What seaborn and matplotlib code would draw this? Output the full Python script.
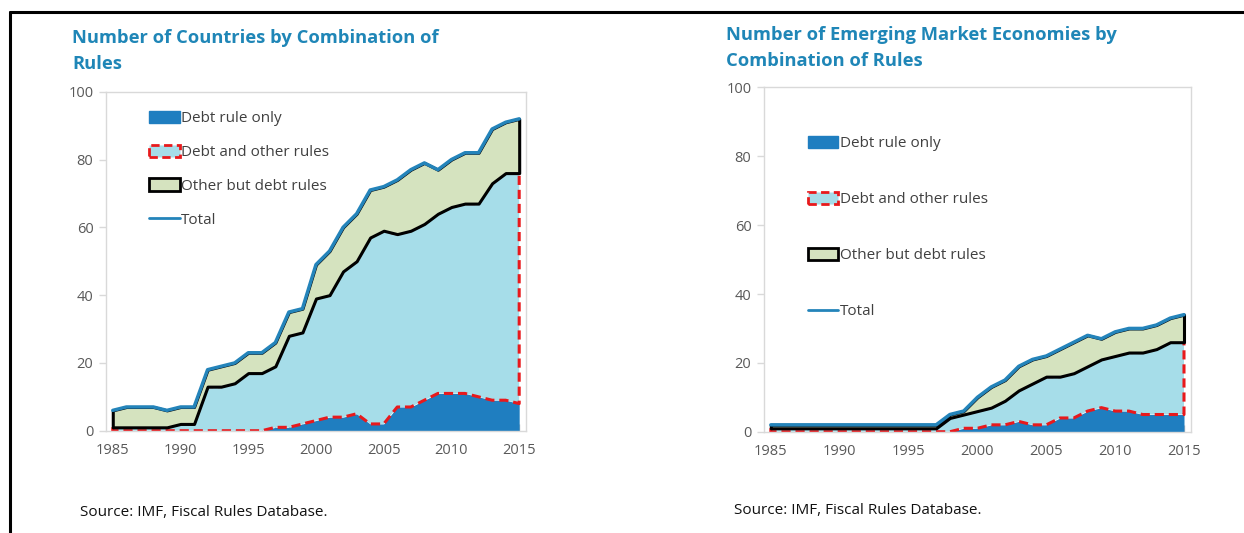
import numpy as np
import pandas as pd
import matplotlib
matplotlib.use("Agg")
import matplotlib.pyplot as plt
import seaborn as sns
from matplotlib.patches import Patch
from matplotlib.lines import Line2D

# ---- data ----
years = list(range(1985, 2016))

# All countries
all_total = [6, 7, 7, 7, 6, 7, 7, 18, 19, 20, 23, 23, 26, 35, 36, 49,
             53, 60, 64, 71, 72, 74, 77, 79, 77, 80, 82, 82, 89, 91, 92]
all_debt_any = [1, 1, 1, 1, 1, 2, 2, 13, 13, 14, 17, 17, 19, 28, 29, 39,
                40, 47, 50, 57, 59, 58, 59, 61, 64, 66, 67, 67, 73, 76, 76]
all_debt_only = [0, 0, 0, 0, 0, 0, 0, 0, 0, 0, 0, 0, 1, 1, 2, 3,
                 4, 4, 5, 2, 2, 7, 7, 9, 11, 11, 11, 10, 9, 9, 8]

# Emerging market economies
em_total = [2, 2, 2, 2, 2, 2, 2, 2, 2, 2, 2, 2, 2, 5, 6, 10,
            13, 15, 19, 21, 22, 24, 26, 28, 27, 29, 30, 30, 31, 33, 34]
em_debt_any = [1, 1, 1, 1, 1, 1, 1, 1, 1, 1, 1, 1, 1, 4, 5, 6,
               7, 9, 12, 14, 16, 16, 17, 19, 21, 22, 23, 23, 24, 26, 26]
em_debt_only = [0, 0, 0, 0, 0, 0, 0, 0, 0, 0, 0, 0, 0, 0, 1, 1,
                2, 2, 3, 2, 2, 4, 4, 6, 7, 6, 6, 5, 5, 5, 5]

labels = ["Debt rule only", "Debt and other rules",
          "Other but debt rules", "Total"]
titles = ["Number of Countries by Combination of\nRules",
          "Number of Emerging Market Economies by\nCombination of Rules"]
source = "Source: IMF, Fiscal Rules Database."

# ---- style ----
sns.set_theme(style="white")
plt.rcParams["font.family"] = ["Open Sans", "DejaVu Sans"]

c_debt_only = "#1f7ec0"
c_debt_other = "#a6dde9"
c_other = "#d5e3bf"
c_total = "#2484ba"
c_title = "#1f86b7"
c_tick = "#595959"

fig = plt.figure(figsize=(12.44, 5.33), dpi=100)
ax1 = fig.add_axes([0.0852, 0.1919, 0.3376, 0.636])
ax2 = fig.add_axes([0.6141, 0.1900, 0.3432, 0.646])


def draw(ax, total, debt_any, debt_only, legend_spacing, legend_y):
    df = pd.DataFrame({"year": years, "total": total,
                       "debt_any": debt_any, "debt_only": debt_only})
    ax.fill_between(df["year"], 0, df["debt_only"], color=c_debt_only,
                    linewidth=0, zorder=1)
    ax.fill_between(df["year"], df["debt_only"], df["debt_any"],
                    facecolor=c_debt_other, edgecolor="#e8191c",
                    linestyle=(0, (3, 1.6)), linewidth=2.2, zorder=2)
    ax.fill_between(df["year"], df["debt_any"], df["total"],
                    facecolor=c_other, edgecolor="black",
                    linewidth=2.2, zorder=3)
    sns.lineplot(data=df, x="year", y="total", ax=ax, color=c_total,
                 linewidth=2.5, zorder=4)

    ax.set_xlim(1984.5, 2015.5)
    ax.set_ylim(0, 100)
    ax.set_xticks(range(1985, 2016, 5))
    ax.set_xticks(years, minor=True)
    ax.set_yticks(range(0, 101, 20))
    ax.set_xlabel("")
    ax.set_ylabel("")
    ax.tick_params(axis="x", which="both", direction="in", length=5,
                   color="#bfbfbf", width=1, labelsize=10.5,
                   labelcolor=c_tick, pad=9, bottom=True)
    ax.tick_params(axis="y", direction="out", length=5, color="#d9d9d9",
                   width=1, labelsize=10.5, labelcolor=c_tick, pad=4, left=True)
    for s in ax.spines.values():
        s.set_color("#d9d9d9")
        s.set_linewidth(1)
        s.set_zorder(5)

    handles = [
        Patch(facecolor=c_debt_only, edgecolor=c_debt_only),
        Patch(facecolor=c_debt_other, edgecolor="#e8191c",
              linestyle=(0, (3, 1.6)), linewidth=2),
        Patch(facecolor=c_other, edgecolor="black", linewidth=2),
        Line2D([0], [0], color=c_total, linewidth=2),
    ]
    ax.legend(handles, labels, loc="upper left", bbox_to_anchor=(0.07, legend_y),
              frameon=False, fontsize=11, handlelength=2.0, handleheight=0.9,
              handletextpad=0.1, labelspacing=legend_spacing,
              labelcolor="#404040")


draw(ax1, all_total, all_debt_any, all_debt_only, 1.2, 0.985)
draw(ax2, em_total, em_debt_any, em_debt_only, 2.65, 0.90)

fig.text(72 / 1244, 1 - 29 / 533, titles[0], color=c_title, fontsize=13.2,
         fontweight="bold", va="top", ha="left", linespacing=1.55)
fig.text(726 / 1244, 1 - 26 / 533, titles[1], color=c_title, fontsize=13.2,
         fontweight="bold", va="top", ha="left", linespacing=1.55)
fig.text(80 / 1244, 1 - 513 / 533, source, fontsize=11, va="center",
         ha="left", color="#111111")
fig.text(734 / 1244, 1 - 511 / 533, source, fontsize=11, va="center",
         ha="left", color="#111111")

# frame lines of the original exhibit box
fig.add_artist(Line2D([10 / 1244, 1], [1 - 12 / 533, 1 - 12 / 533],
                      color="black", linewidth=2.2, transform=fig.transFigure))
fig.add_artist(Line2D([10 / 1244, 10 / 1244], [0, 1 - 12 / 533],
                      color="black", linewidth=2.2, transform=fig.transFigure))

fig.savefig("out.png", dpi=100, facecolor="white")
